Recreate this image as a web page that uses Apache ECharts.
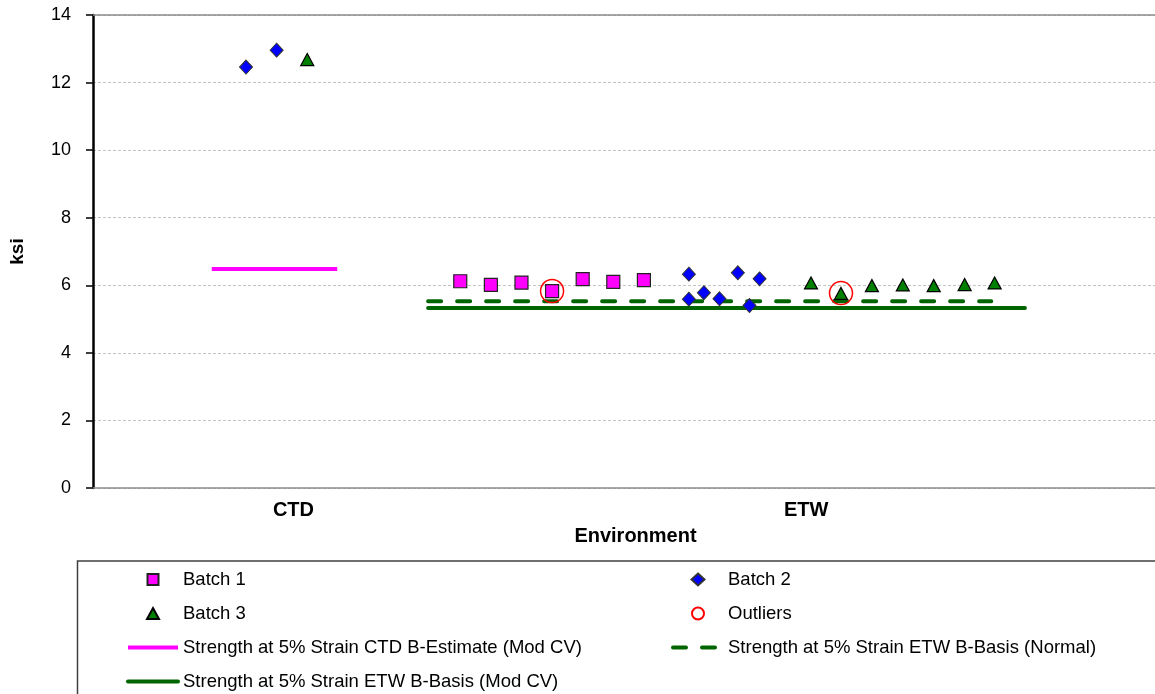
<!DOCTYPE html>
<html>
<head>
<meta charset="utf-8">
<script src="https://cdn.jsdelivr.net/npm/echarts@6/dist/echarts.min.js"></script>
<style>
html,body{margin:0;padding:0;background:#fff;}
#chart{width:1155px;height:694px;}
</style>
</head>
<body>
<div id="chart"></div>
<script>
// Category labels and their positions along the x axis
var categories = ['CTD', 'ETW'];
var categoryX = [6.55, 23.3];

// Batch 1 (ETW)
var batch1X = [12, 13, 14, 15, 16, 17, 18];
var batch1Y = [6.12, 6.01, 6.08, 5.83, 6.18, 6.10, 6.15];

// Batch 2 (CTD then ETW)
var batch2X = [5, 6, 19.47, 19.47, 19.96, 20.47, 21.07, 21.45, 21.78];
var batch2Y = [12.46, 12.96, 6.33, 5.59, 5.78, 5.60, 6.37, 5.40, 6.19];

// Batch 3 (CTD then ETW)
var batch3X = [7, 23.46, 24.44, 25.45, 26.46, 27.47, 28.48, 29.46];
var batch3Y = [12.68, 6.07, 5.76, 5.99, 6.01, 5.99, 6.02, 6.07];

// Outliers
var outlierX = [15, 24.44];
var outlierY = [5.83, 5.77];

// Basis values (start x, end x, value)
var ctdEstimateX = [3.88, 7.98];
var ctdEstimate = 6.48;
var etwNormalX = [10.95, 29.35];
var etwNormal = 5.53;
var etwModCvX = [10.95, 30.45];
var etwModCv = 5.33;

// Axis ranges
var yMin = 0, yMax = 14, yInterval = 2;
var xMin = 0, xMax = 34.7;

function pts(xs, ys) { return xs.map(function (x, i) { return [x, ys[i]]; }); }
function hline(xs, v) { return [[xs[0], v], [xs[1], v]]; }

var FONT = '"Liberation Sans", Arial, sans-serif';
var names = {
  b1: 'Batch 1', b2: 'Batch 2', b3: 'Batch 3', out: 'Outliers',
  ctd: 'Strength at 5% Strain CTD B-Estimate (Mod CV)',
  etwN: 'Strength at 5% Strain ETW B-Basis (Normal)',
  etwM: 'Strength at 5% Strain ETW B-Basis (Mod CV)'
};
// legend icons: glyph centred in a 50x12 box (corner move-to points fix the box)
var BOX = 'M0,0M50,12';
var iconSquare = 'path://' + BOX + 'M19.5,0.5L30.5,0.5L30.5,11.5L19.5,11.5Z';
var iconDiamond = 'path://' + BOX + 'M25,0L31.5,6L25,12L18.5,6Z';
var iconTriangle = 'path://' + BOX + 'M25,0.5L31,11.5L19,11.5Z';
function lineItem(n) { return {name: n, itemStyle: {opacity: 0}}; }

var chart = echarts.init(document.getElementById('chart'), null, {renderer: 'canvas'});
var legendCommon = {
  orient: 'vertical',
  itemWidth: 50,
  itemHeight: 12,
  itemGap: 15,
  padding: 0,
  textStyle: {fontFamily: FONT, fontSize: 18.5, color: '#000', lineHeight: 18},
  lineStyle: {width: 4},
  selectedMode: false
};
chart.setOption({
  backgroundColor: '#fff',
  animation: false,
  textStyle: {fontFamily: FONT},
  grid: {left: 90, right: 0, top: 15, bottom: 206, containLabel: false},
  graphic: [{
    type: 'rect',
    shape: {x: 77.5, y: 561, width: 1200, height: 200},
    style: {fill: 'none', stroke: '#404040', lineWidth: 1.5},
    z: 0
  }],
  legend: [
    Object.assign({}, legendCommon, {left: 126, top: 570,
      data: [{name: names.b1, icon: iconSquare}, {name: names.b3, icon: iconTriangle},
             lineItem(names.ctd), lineItem(names.etwM)]}),
    Object.assign({}, legendCommon, {left: 671, top: 570,
      data: [{name: names.b2, icon: iconDiamond}, names.out, lineItem(names.etwN)]})
  ],
  xAxis: [{
    type: 'value', min: xMin, max: xMax,
    name: 'Environment', nameLocation: 'middle', nameGap: 38,
    nameTextStyle: {fontFamily: FONT, fontSize: 20, fontWeight: 'bold', color: '#000', padding: [0, 0, 0, 23]},
    axisLine: {show: true, lineStyle: {color: '#8c8c8c', width: 1.5}},
    axisTick: {show: false},
    splitLine: {show: false},
    axisLabel: {
      show: true, margin: 12,
      customValues: categoryX,
      fontFamily: FONT, fontSize: 20, fontWeight: 'bold', color: '#000',
      formatter: function (v) {
        var best = 0;
        for (var i = 1; i < categoryX.length; i++) {
          if (Math.abs(categoryX[i] - v) < Math.abs(categoryX[best] - v)) best = i;
        }
        return Math.abs(categoryX[best] - v) < 0.01 ? categories[best] : '';
      }
    }
  }, {
    type: 'value', min: xMin, max: xMax, position: 'top',
    axisLine: {show: true, lineStyle: {color: '#8c8c8c', width: 1.5}},
    axisTick: {show: false}, axisLabel: {show: false}, splitLine: {show: false}
  }],
  yAxis: {
    type: 'value', min: yMin, max: yMax, interval: yInterval,
    name: 'ksi', nameLocation: 'middle', nameGap: 66, nameRotate: 90,
    nameTextStyle: {fontFamily: FONT, fontSize: 19, fontWeight: 'bold', color: '#000'},
    axisLine: {show: true, lineStyle: {color: '#000', width: 2.5}},
    axisTick: {show: true, length: 7, lineStyle: {color: '#000', width: 1.5}},
    axisLabel: {fontFamily: FONT, fontSize: 18, color: '#000', margin: 22},
    splitLine: {show: true, lineStyle: {color: '#c4c4c4', width: 1, type: [3, 2]}}
  },
  series: [
    {
      name: names.ctd, type: 'line', data: hline(ctdEstimateX, ctdEstimate), symbol: 'none',
      lineStyle: {color: '#ff00ff', width: 4}, itemStyle: {color: '#ff00ff'}, z: 2
    },
    {
      name: names.etwN, type: 'line', data: hline(etwNormalX, etwNormal), symbol: 'none',
      lineStyle: {color: '#006400', width: 4, type: [13, 16], cap: 'round'}, itemStyle: {color: '#006400'}, z: 2
    },
    {
      name: names.etwM, type: 'line', data: hline(etwModCvX, etwModCv), symbol: 'none',
      lineStyle: {color: '#006400', width: 4, cap: 'round'}, itemStyle: {color: '#006400'}, z: 2
    },
    {
      name: names.b1, type: 'scatter', data: pts(batch1X, batch1Y), symbol: 'rect', symbolSize: 13,
      itemStyle: {color: '#ff00ff', borderColor: '#222', borderWidth: 1.2, opacity: 1}, z: 3
    },
    {
      name: names.b2, type: 'scatter', data: pts(batch2X, batch2Y), symbol: 'diamond', symbolSize: [13, 14],
      itemStyle: {color: '#0000ff', borderColor: '#333', borderWidth: 1, opacity: 1}, z: 3
    },
    {
      name: names.b3, type: 'scatter', data: pts(batch3X, batch3Y), symbol: 'triangle', symbolSize: [13, 12],
      itemStyle: {color: '#008000', borderColor: '#000', borderWidth: 1.2, opacity: 1}, z: 3
    },
    {
      name: names.out, type: 'scatter', data: pts(outlierX, outlierY), symbol: 'circle', symbolSize: 23,
      itemStyle: {color: 'rgba(255,255,255,0)', borderColor: '#ff0000', borderWidth: 1.5, opacity: 1}, z: 4
    }
  ]
});
</script>
</body>
</html>
